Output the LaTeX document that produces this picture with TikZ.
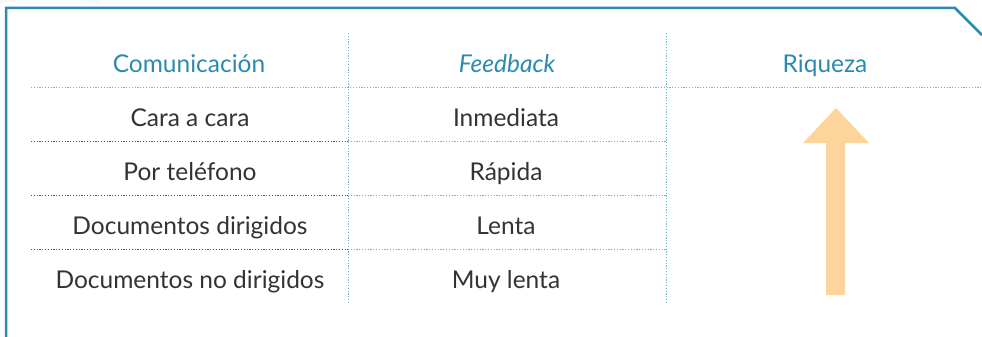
\documentclass[tikz,border=0pt]{standalone}
\usepackage{fontspec}
\setmainfont{Lato}
\definecolor{rblue}{HTML}{2A8AB0}
\definecolor{rdot}{HTML}{6FB6D0}
\definecolor{rgray}{HTML}{555555}
\definecolor{rtext}{HTML}{333333}
\definecolor{rorange}{HTML}{FDD49C}
\begin{document}
\begin{tikzpicture}[x=1pt,y=-1pt,
    head/.style={text=rblue, anchor=base, font=\fontsize{24.5}{28}\selectfont},
    cell/.style={text=rtext, anchor=base, font=\fontsize{24.5}{28}\selectfont},
    bluedot/.style={rdot, line width=1pt, dash pattern=on 1.2pt off 1.6pt},
    graydot/.style={rgray, line width=1pt, dash pattern=on 1.2pt off 1.6pt}]
    \useasboundingbox (0,0) rectangle (982,337);
    % faint shadow top left
    \fill[gray!6] (0,5) arc (180:360:50 and 6) -- (100,0) -- (0,0) -- cycle;
    % frame
    \draw[rblue, line width=2.5pt] (6,337) -- (6,8) -- (955,8) -- (982,35);
    % grid
    \draw[bluedot] (348,33) -- (348,303);
    \draw[bluedot] (666,33) -- (666,303);
    \draw[bluedot] (31,87) -- (982,87);
    \draw[graydot] (31,141) -- (348,141);
    \draw[graydot] (31,195) -- (348,195);
    \draw[graydot] (31,249) -- (348,249);
    \draw[bluedot] (348,141) -- (666,141);
    \draw[bluedot] (348,195) -- (666,195);
    \draw[bluedot] (348,249) -- (666,249);
    % headers
    \node[head] (hcom) at (189,72.5) {Comunicación};
    \node[head] (hfee) at (507,72.5) {\itshape Feedback};
    \node[head] (hriq) at (825,72.5) {Riqueza};
    % rows
    \node[cell] (cara) at (190,126) {Cara a cara};
    \node[cell] (tel) at (190,180) {Por teléfono};
    \node[cell] (dir) at (190,234) {Documentos dirigidos};
    \node[cell] (nodir) at (190,288) {Documentos no dirigidos};
    \node[cell] (inm) at (506,126) {Inmediata};
    \node[cell] (rap) at (506,180) {Rápida};
    \node[cell] (len) at (506,234) {Lenta};
    \node[cell] (mlen) at (506,288) {Muy lenta};
    % riqueza arrow
    \fill[rorange] (826,295) -- (826,143) -- (803,143) -- (836,108)
        -- (869,143) -- (845,143) -- (845,295) -- cycle;
\end{tikzpicture}
\end{document}
